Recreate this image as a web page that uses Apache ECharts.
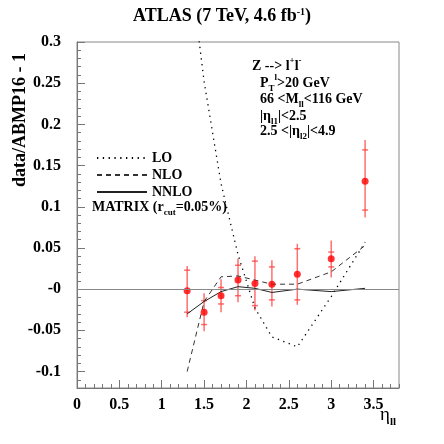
<!DOCTYPE html>
<html>
<head>
<meta charset="utf-8">
<script src="https://cdn.jsdelivr.net/npm/echarts@6/dist/echarts.min.js"></script>
<style>
  html, body { margin: 0; padding: 0; background: #fff; }
  #c { width: 444px; height: 444px; }
</style>
</head>
<body>
<div id="c"></div>
<script>
// eta_ll bin centres
const ETA = [1.3, 1.5, 1.7, 1.9, 2.1, 2.3, 2.6, 3.0, 3.4];

// data/ABMP16 - 1 with total and inner error bounds
const DATA    = [-0.002, -0.028, -0.008, 0.011, 0.007, 0.006, 0.018, 0.037, 0.131];
const TOT_HI  = [0.028, -0.005, 0.012, 0.037, 0.040, 0.035, 0.055, 0.059, 0.181];
const TOT_LO  = [-0.034, -0.051, -0.028, -0.016, -0.026, -0.021, -0.019, 0.014, 0.087];
const STAT_HI = [0.023, -0.014, 0.002, 0.029, 0.034, 0.027, 0.049, 0.045, 0.169];
const STAT_LO = [-0.028, -0.043, -0.018, -0.008, -0.020, -0.013, -0.013, 0.027, 0.096];

// MATRIX predictions
const LO   = [0.42, 0.252, 0.128, 0.042, -0.023, -0.058, -0.070, -0.009, 0.057];
const NLO  = [-0.100, -0.015, 0.015, 0.016, 0.011, 0.006, 0.006, 0.021, 0.053];
const NNLO = [-0.030, -0.015, -0.003, 0.003, 0.001, -0.004, 0.000, -0.003, 0.001];

// major ticks
const X_TICKS = [0, 0.5, 1, 1.5, 2, 2.5, 3, 3.5];
const Y_TICKS = [-0.1, -0.05, 0, 0.05, 0.1, 0.15, 0.2, 0.25, 0.3];

const FONT = '"Liberation Serif", "Times New Roman", serif';
const AX = '#777';

const pairs = arr => ETA.map((x, i) => [x, arr[i]]);
const near = (v, list) => list.some(t => Math.abs(t - v) < 1e-6);

const chart = echarts.init(document.getElementById('c'), null, { renderer: 'canvas' });

const labelStyle = { fontFamily: FONT, fontWeight: 'bold', fontSize: 16, color: '#000' };

chart.setOption({
  animation: false,
  backgroundColor: '#fff',
  grid: { left: 77, right: 45, top: 42, bottom: 56, show: true, borderColor: '#888', borderWidth: 1 },
  xAxis: [
    {
      type: 'value', position: 'bottom', min: 0, max: 3.8, interval: 0.1,
      axisLine: { show: true, onZero: false, lineStyle: { color: AX, width: 1 } },
      axisTick: { inside: true, length: 4, lineStyle: { color: AX } },
      axisLabel: {
        ...labelStyle, margin: 9,
        formatter: v => near(v, X_TICKS) ? String(Math.round(v * 10) / 10) : ''
      },
      splitLine: { show: false }
    },
    {
      type: 'value', position: 'bottom', min: 0, max: 3.8,
      axisLine: { show: false, onZero: false },
      axisTick: { show: true, inside: true, length: 8, lineStyle: { color: AX }, customValues: X_TICKS },
      axisLabel: { show: false },
      splitLine: { show: false }
    }
  ],
  yAxis: [
    {
      type: 'value', position: 'left', min: -0.12, max: 0.3, interval: 0.01,
      axisLine: { show: true, onZero: false, lineStyle: { color: AX, width: 1 } },
      axisTick: { inside: true, length: 4, lineStyle: { color: AX } },
      axisLabel: {
        ...labelStyle, margin: 16,
        formatter: v => {
          if (!near(v, Y_TICKS)) return '';
          const r = Math.round(v * 100) / 100;
          return r === 0 ? '-0' : String(r);
        }
      },
      splitLine: { show: false }
    },
    {
      type: 'value', position: 'left', min: -0.12, max: 0.3,
      axisLine: { show: false, onZero: false },
      axisTick: { show: true, inside: true, length: 8, lineStyle: { color: AX }, customValues: Y_TICKS },
      axisLabel: { show: false },
      splitLine: { show: false }
    }
  ],
  legend: {
    data: ['LO', 'NLO', 'NNLO'],
    orient: 'vertical', left: 91, top: 146,
    itemWidth: 50, itemHeight: 10, itemGap: 3,
    itemStyle: { opacity: 0 },
    textStyle: { fontFamily: FONT, fontWeight: 'bold', fontSize: 14, color: '#000' }
  },
  series: [
    {
      name: 'LO', type: 'line', data: pairs(LO), symbol: 'none',
      itemStyle: { color: '#000' },
      lineStyle: { color: '#000', width: 1.3, type: [1.3, 4.5] }
    },
    {
      name: 'NLO', type: 'line', data: pairs(NLO), symbol: 'none',
      itemStyle: { color: '#333' },
      lineStyle: { color: '#333', width: 1, type: [5, 4] }
    },
    {
      name: 'NNLO', type: 'line', data: pairs(NNLO), symbol: 'none',
      itemStyle: { color: '#222' },
      lineStyle: { color: '#222', width: 1 },
      markLine: {
        silent: true, symbol: 'none', label: { show: false },
        lineStyle: { color: '#888', type: 'solid', width: 1 },
        data: [{ yAxis: 0 }]
      }
    },
    {
      name: 'err', type: 'custom',
      data: ETA.map((x, i) => [x, TOT_HI[i], TOT_LO[i], STAT_HI[i], STAT_LO[i]]),
      encode: { x: 0, y: [1, 2, 3, 4] },
      renderItem: (params, api) => {
        const x = api.value(0);
        const a = api.coord([x, api.value(1)]);
        const b = api.coord([x, api.value(2)]);
        const c = api.coord([x, api.value(3)]);
        const d = api.coord([x, api.value(4)]);
        const style = { stroke: 'rgba(255,50,50,0.7)', lineWidth: 1.5 };
        return {
          type: 'group',
          children: [
            { type: 'line', shape: { x1: a[0], y1: a[1], x2: b[0], y2: b[1] }, style },
            { type: 'line', shape: { x1: c[0] - 3, y1: c[1], x2: c[0] + 3, y2: c[1] }, style },
            { type: 'line', shape: { x1: d[0] - 3, y1: d[1], x2: d[0] + 3, y2: d[1] }, style }
          ]
        };
      },
      z: 3
    },
    {
      name: 'data', type: 'scatter', data: pairs(DATA),
      symbol: 'circle', symbolSize: 7,
      itemStyle: { color: '#ff0000' }, z: 4
    }
  ],
  graphic: [
    {
      type: 'text', x: 222, y: 16,
      style: {
        text: 'ATLAS (7 TeV, 4.6 fb{sup|-1})',
        fontFamily: FONT, fontWeight: 'bold', fontSize: 18, fill: '#000',
        align: 'center', verticalAlign: 'middle',
        rich: { sup: { fontFamily: FONT, fontWeight: 'bold', fontSize: 10, verticalAlign: 'top', lineHeight: 18 } }
      }
    },
    {
      type: 'text', x: 20, y: 120, rotation: Math.PI / 2,
      style: {
        text: 'data/ABMP16 - 1',
        fontFamily: FONT, fontWeight: 'bold', fontSize: 18, fill: '#000',
        align: 'center', verticalAlign: 'middle'
      }
    },
    {
      type: 'text', x: 380, y: 415,
      style: {
        text: 'η{sub|ll}',
        fontFamily: FONT, fontSize: 19, fill: '#000',
        align: 'left', verticalAlign: 'middle',
        rich: { sub: { fontFamily: FONT, fontWeight: 'bold', fontSize: 11, verticalAlign: 'bottom', lineHeight: 26 } }
      }
    },
    {
      type: 'text', x: 92, y: 207,
      style: {
        text: 'MATRIX (r{sub|cut}=0.05%)',
        fontFamily: FONT, fontWeight: 'bold', fontSize: 14, fill: '#000',
        align: 'left', verticalAlign: 'middle',
        rich: { sub: { fontFamily: FONT, fontWeight: 'bold', fontSize: 9, verticalAlign: 'bottom', lineHeight: 20 } }
      }
    },
    {
      type: 'group', x: 252, y: 66,
      children: [
        ['Z --> l{sup|+}l{sup|-}', 0, 0],
        ['P{sub|T}{sup|l}>20 GeV', 8, 17],
        ['66 <M{sub|ll}<116 GeV', 8, 33],
        ['|η{sub|l1}|<2.5', 8, 50],
        ['2.5 <|η{sub|l2}|<4.9', 8, 65]
      ].map(([t, dx, dy]) => ({
        type: 'text', x: dx, y: dy,
        style: {
          text: t,
          fontFamily: FONT, fontWeight: 'bold', fontSize: 14, fill: '#000',
          align: 'left', verticalAlign: 'middle',
          rich: {
            sub: { fontFamily: FONT, fontWeight: 'bold', fontSize: 9, verticalAlign: 'bottom', lineHeight: 20 },
            sup: { fontFamily: FONT, fontWeight: 'bold', fontSize: 9, verticalAlign: 'top', lineHeight: 20 }
          }
        }
      }))
    }
  ]
});
</script>
</body>
</html>
